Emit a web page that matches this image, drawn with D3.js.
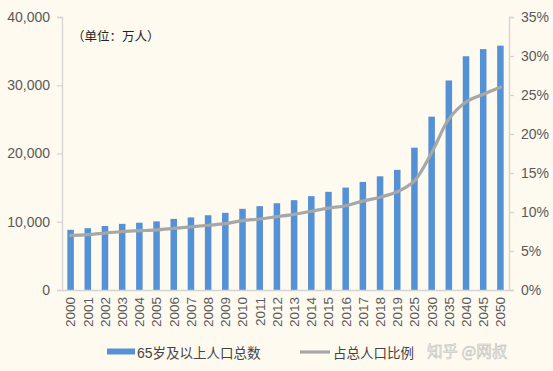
<!DOCTYPE html>
<html>
<head>
<meta charset="utf-8">
<script src="https://cdn.jsdelivr.net/npm/d3@7"></script>
<style>
  body { margin: 0; background: #fefaf0; }
  svg { display: block; }
  text { font-family: "Liberation Sans", Arial, sans-serif; }
  .cjk { font-family: "Noto Sans CJK SC", sans-serif; }
</style>
</head>
<body>
<div id="chart"></div>
<script>
const years = ["2000","2001","2002","2003","2004","2005","2006","2007","2008","2009",
    "2010","2011","2012","2013","2014","2015","2016","2017","2018","2019",
    "2025","2030","2035","2040","2045","2050"];
// 65岁及以上人口总数 (万人)
const popValues = [8821, 9062, 9377, 9692, 9857, 10055, 10419, 10636, 10956, 11307,
    11894, 12288, 12714, 13161, 13755, 14386, 15003, 15831, 16658, 17603,
    20850, 25400, 30700, 34250, 35300, 35800];
// 占总人口比例 (%)
const ratioValues = [7.0, 7.1, 7.3, 7.5, 7.6, 7.7, 7.9, 8.1, 8.3, 8.5,
    8.9, 9.1, 9.4, 9.7, 10.1, 10.5, 10.8, 11.4, 11.9, 12.6,
    14.0, 17.6, 21.9, 24.1, 25.1, 26.0];
const leftTicks = [0, 10000, 20000, 30000, 40000];
const rightTicks = [0, 5, 10, 15, 20, 25, 30, 35];

const W = 553, H = 371;
const margin = {top: 17, right: 44, bottom: 81, left: 62},
    width = W - margin.left - margin.right,
    height = H - margin.top - margin.bottom;

const svg = d3.select("#chart").append("svg")
    .attr("width", W)
    .attr("height", H);

svg.append("rect").attr("width", W).attr("height", H).attr("fill", "#fefaf0");

const g = svg.append("g")
    .attr("transform", `translate(${margin.left},${margin.top})`);

const x = d3.scaleBand()
    .domain(years)
    .range([0, width])
    .paddingInner(0.62)
    .paddingOuter(0.31);

const yLeft = d3.scaleLinear().domain([0, 40000]).range([height, 0]);
const yRight = d3.scaleLinear().domain([0, 35]).range([height, 0]);

const axisColor = "#d4d4d4";
const labelColor = "#595959";

// bars
g.selectAll(".bar")
    .data(years)
    .enter().append("rect")
    .attr("class", "bar")
    .attr("x", d => x(d))
    .attr("width", x.bandwidth())
    .attr("y", (d, i) => yLeft(popValues[i]))
    .attr("height", (d, i) => height - yLeft(popValues[i]))
    .attr("fill", "#5592d5");

// left axis
const leftAxis = g.append("g")
    .call(d3.axisLeft(yLeft).tickValues(leftTicks).tickFormat(d3.format(",")).tickSize(5).tickPadding(7));
// right axis
const rightAxis = g.append("g")
    .attr("transform", `translate(${width},0)`)
    .call(d3.axisRight(yRight).tickValues(rightTicks).tickFormat(d => d + "%").tickSize(5).tickPadding(7));
// bottom axis
const bottomAxis = g.append("g")
    .attr("transform", `translate(0,${height})`)
    .call(d3.axisBottom(x).tickSize(0).tickPadding(0));

[leftAxis, rightAxis, bottomAxis].forEach(a => {
    a.select(".domain").attr("stroke", axisColor).attr("stroke-width", 1.3);
    a.selectAll(".tick line").attr("stroke", axisColor).attr("stroke-width", 1.3);
    a.selectAll("text").attr("fill", labelColor).style("font-size", "14px")
        .style("font-family", "'Liberation Sans', Arial, sans-serif");
});

bottomAxis.selectAll("text")
    .attr("transform", "rotate(-90)")
    .attr("text-anchor", "end")
    .attr("x", -7)
    .attr("y", 0)
    .attr("dy", "0.36em")
    .style("font-size", "13.5px");

// ratio line
const line = d3.line()
    .x((d, i) => x(years[i]) + x.bandwidth() / 2)
    .y(d => yRight(d))
    .curve(d3.curveCatmullRom.alpha(0.5));

g.append("path")
    .datum(ratioValues)
    .attr("fill", "none")
    .attr("stroke", "#a7a7a7")
    .attr("stroke-width", 3.2)
    .attr("stroke-linecap", "round")
    .attr("d", line);

// unit note
svg.append("text")
    .attr("class", "cjk")
    .attr("x", 72)
    .attr("y", 41)
    .attr("fill", "#222")
    .style("font-size", "12.5px")
    .text("（单位：万人）");

// legend
const legend = svg.append("g");
legend.append("rect")
    .attr("x", 107).attr("y", 348.5)
    .attr("width", 28).attr("height", 6)
    .attr("fill", "#5592d5");
legend.append("text")
    .attr("x", 137).attr("y", 358)
    .attr("fill", "#444")
    .style("font-size", "14px")
    .html('65<tspan class="cjk" style="font-size:13.5px">岁及以上人口总数</tspan>');
legend.append("line")
    .attr("x1", 300).attr("x2", 330)
    .attr("y1", 352).attr("y2", 352)
    .attr("stroke", "#a7a7a7").attr("stroke-width", 3.2);
legend.append("text")
    .attr("class", "cjk")
    .attr("x", 333).attr("y", 358)
    .attr("fill", "#444")
    .style("font-size", "13.5px")
    .text("占总人口比例");

// watermark
svg.append("text")
    .attr("class", "cjk")
    .attr("x", 427).attr("y", 357)
    .attr("fill", "#ececec")
    .attr("stroke", "#bdbdbd")
    .attr("stroke-width", 0.5)
    .style("font-size", "15.5px")
    .text("知乎 @网叔");
</script>
</body>
</html>
